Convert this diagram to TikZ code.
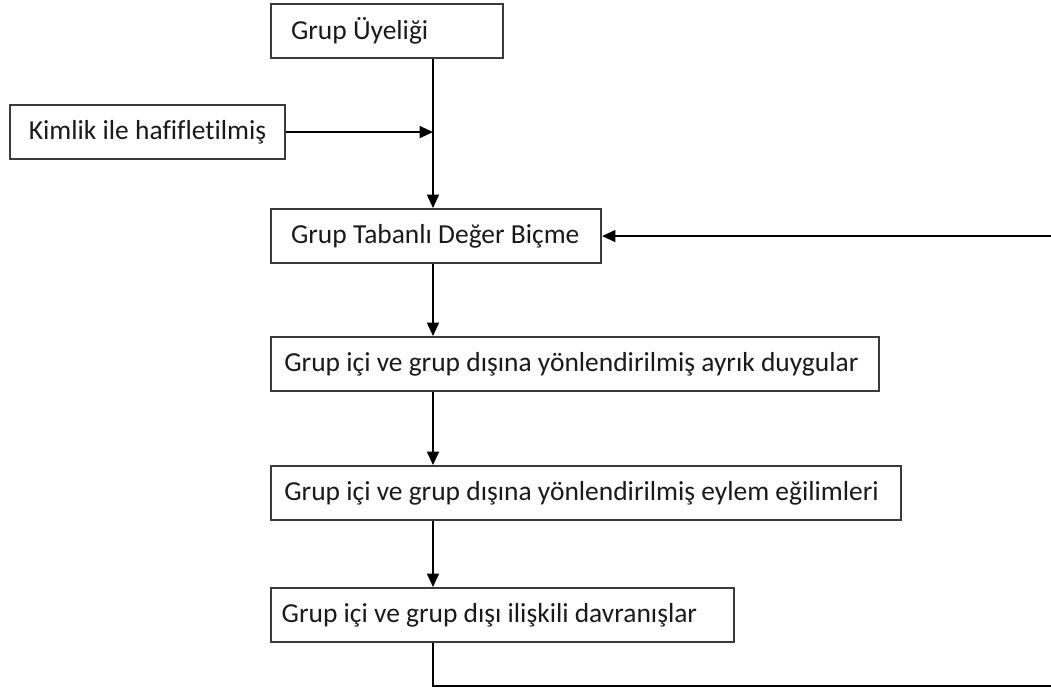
\documentclass[tikz,border=0pt]{standalone}
\usepackage{fontspec}
\setmainfont{Carlito}[Ligatures=NoCommon]
\usetikzlibrary{arrows.meta}
\definecolor{boxline}{HTML}{3A3A3A}
\definecolor{ink}{HTML}{1A1A1A}
% one unbroken line with the font's own word spacing
\newcommand{\stageline}[2][0pt]{\spaceskip=0pt\xspaceskip=0pt\hspace*{#1}\mbox{#2}}
\begin{document}
\begin{tikzpicture}[x=0.75pt,y=-0.75pt,
  stage/.style={draw=boxline,line width=1.6pt,fill=white,anchor=north west,
    inner xsep=0pt,inner ysep=0pt,minimum height=40.5pt,
    minimum width=#1,text width=#1,align=left,
    font=\fontsize{20.6}{24}\selectfont,text=ink},
  flow/.style={draw=black,line width=1.2pt,-{Triangle[length=10pt,width=9pt]}}]
\clip (0,0) rectangle (1051,692);
\fill[white] (0,0) rectangle (1051,692);
% vertical spine that carries the main flow
\coordinate (spine) at (433,0);
% flow stages
\node[stage=174pt] (uyelik) at (270,3) {\stageline[15pt]{Grup Üyeliği}};
\node[stage=206.25pt,align=center] (kimlik) at (9,104) {\stageline{Kimlik ile hafifletilmiş}};
\node[stage=247.5pt] (deger) at (270,208) {\stageline[15pt]{Grup Tabanlı Değer Biçme}};
\node[stage=456pt] (duygu) at (270,336) {\stageline[10pt]{Grup içi ve grup dışına yönlendirilmiş ayrık duygular}};
\node[stage=472.5pt] (eylem) at (270,465) {\stageline[10pt]{Grup içi ve grup dışına yönlendirilmiş eylem eğilimleri}};
\node[stage=347.25pt] (davranis) at (270,587) {\stageline[8pt]{Grup içi ve grup dışı ilişkili davranışlar}};
% connectors
\draw[flow] (uyelik.south -| spine) -- (deger.north -| spine);
\draw[flow] (kimlik.east) -- (kimlik.east -| spine);
\draw[flow] (deger.south -| spine) -- (duygu.north -| spine);
\draw[flow] (duygu.south -| spine) -- (eylem.north -| spine);
\draw[flow] (eylem.south -| spine) -- (davranis.north -| spine);
% feedback loop back to the valuation stage
\coordinate (low) at (433,686);
\coordinate (edge) at (1054,686);
\draw[flow] (davranis.south -| spine) -- (low) -- (edge) -- (edge |- deger.east) -- (deger.east);
\end{tikzpicture}
\end{document}
